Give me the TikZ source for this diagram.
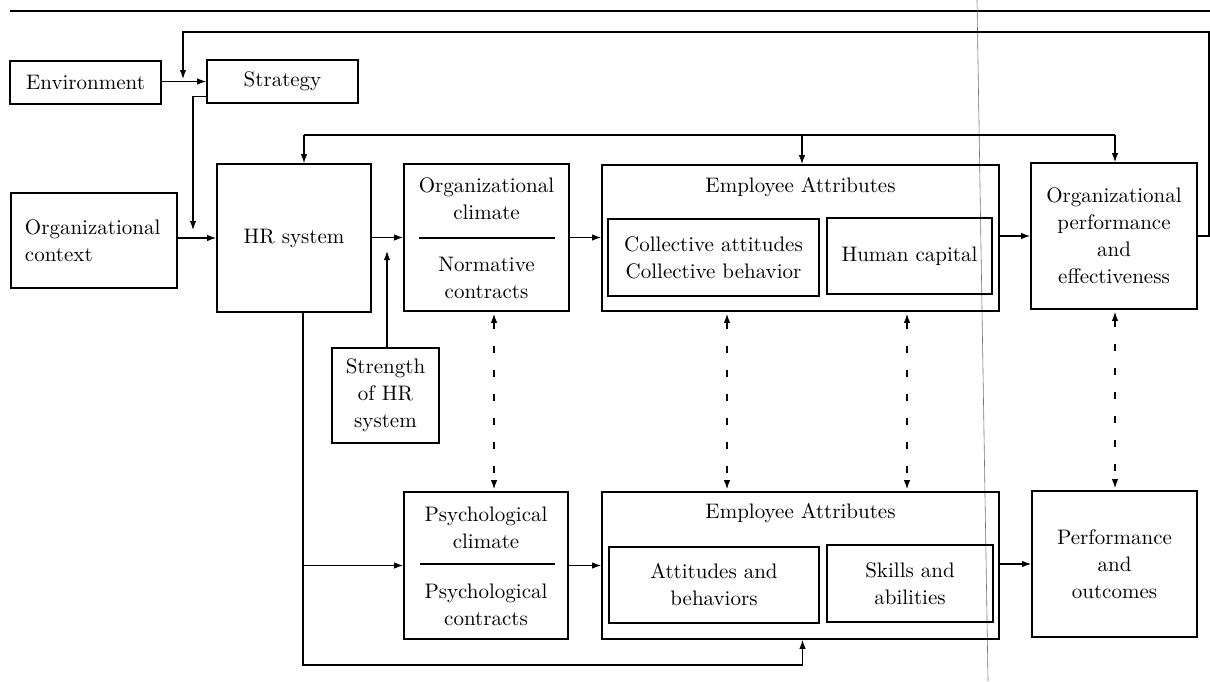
\documentclass[tikz,border=0pt]{standalone}
\usepackage{tikz}
\usetikzlibrary{arrows.meta}

\begin{document}
\begin{tikzpicture}[x=0.5pt,y=-0.5pt,line width=0.6pt,
    >={Latex[length=4.5pt,width=3.2pt]},
    font=\fontsize{10.5}{13.5}\selectfont]
    \tikzstyle{box}=[draw,line width=0.8pt,inner sep=0pt,align=center]
    \tikzstyle{part box}=[box,line width=0.7pt]
    \tikzstyle{annot}=[inner sep=0pt,align=center]
    \tikzstyle{link}=[->]
    \tikzstyle{dash link}=[<->,dash pattern=on 3.5pt off 8.5pt,shorten <=1pt,shorten >=1pt]

    \useasboundingbox (0,0) rectangle (1210,681);

    % Marks of the scanned page
    \draw[line width=0.9pt] (10,11) -- (1210,11);
    \draw[black!55,line width=0.3pt] (977,0) -- (988,681);

    % Draw the input boxes
    \node[box,minimum width=75.5pt,minimum height=21.5pt] (env) at (85.5,82.5) {Environment};
    \node[box,minimum width=75.5pt,minimum height=21.5pt] (strat) at (282.5,81.5) {Strategy};
    \node[box,align=left,text width=69pt,inner xsep=7pt,minimum height=47.5pt] (ctx) at (94,240.5)
        {Organizational\\context};
    \node[box,minimum width=77pt,minimum height=74pt] (hr) at (294,238) {HR system};
    \node[box,minimum width=53.5pt,minimum height=47.5pt] (str) at (385.5,395.5) {Strength\\of HR\\system};

    % Draw the organizational level boxes
    \node[box,minimum width=82.5pt,minimum height=73.5pt] (clim) at (486.5,237.5) {};
    \node[annot] (clim-a) at (486.5,199) {Organizational\\climate};
    \node[annot] (clim-b) at (486.5,278) {Normative\\contracts};
    \draw (419,238) -- (555,238);
    \node[box,minimum width=198.5pt,minimum height=73pt] (eaT) at (800.5,238) {};
    \node[annot] (eaT-t) at (800.5,187) {Employee Attributes};
    \node[part box,minimum width=105.5pt,minimum height=38.5pt] (coll) at (713.5,257.5)
        {Collective attitudes\\Collective behavior};
    \node[part box,minimum width=82.5pt,minimum height=38pt] (hcap) at (909.5,256) {Human capital};
    \node[box,minimum width=83pt,minimum height=73pt] (perfO) at (1114,236)
        {Organizational\\performance\\and\\effectiveness};

    % Draw the individual level boxes
    \node[box,minimum width=82pt,minimum height=73.5pt] (psych) at (486,565.5) {};
    \node[annot] (psych-a) at (486,528) {Psychological\\climate};
    \node[annot] (psych-b) at (486,605) {Psychological\\contracts};
    \draw (420,564) -- (555,564);
    \node[box,minimum width=198.5pt,minimum height=73.5pt] (eaB) at (800.5,565.5) {};
    \node[annot] (eaB-t) at (800.5,513) {Employee Attributes};
    \node[part box,minimum width=105pt,minimum height=38pt] (att) at (714,585) {Attitudes and\\behaviors};
    \node[part box,minimum width=83pt,minimum height=38.5pt] (skill) at (910,583.5) {Skills and\\abilities};
    \node[box,minimum width=82.5pt,minimum height=73pt] (perfI) at (1114.5,564) {Performance\\and\\outcomes};

    % Connect the input boxes
    \coordinate (env-strat) at (183,79);
    \coordinate (ctx-hr) at (193,230);
    \coordinate (hr-clim) at (387,251);
    \draw[link] (env.east |- strat.west) -- (strat.west);
    \draw[link] (perfO.east) -| (1209,32) -| (env-strat);
    \draw[link] ([yshift=3.5pt]strat.south west) -| (ctx-hr);
    \draw[link] (ctx.east |- hr.west) -- (hr.west);
    \draw (304,135) -- (1115,135);
    \foreach \dest / \x in {hr/304, eaT/802, perfO/1115}
        \draw[link] (\x,135) -- (\x,0 |- \dest.north);
    \draw[link] (str.north -| hr-clim) -- (hr-clim);

    % Connect the organizational level
    \draw[link] (hr.east |- clim.west) -- (clim.west);
    \draw[link] (clim.east) -- (eaT.west |- clim.east);
    \draw[link] (eaT.east |- perfO.west) -- (perfO.west);

    % Connect the individual level
    \draw[link] ([xshift=4.5pt]hr.south) |- ([xshift=1pt]eaB.south |- 0,665) -- ([xshift=1pt]eaB.south);
    \draw[link] ([xshift=4.5pt]hr.south |- psych.west) -- (psych.west);
    \draw[link] (psych.east) -- (eaB.west |- psych.east);
    \draw[link] (eaB.east |- perfI.west) -- (perfI.west);

    % Link both levels
    \foreach \x / \up / \down in {494/clim/psych, 727/eaT/eaB, 907/eaT/eaB, 1115/perfO/perfI}
        \draw[dash link] (\x,0 |- \up.south) -- (\x,0 |- \down.north);
\end{tikzpicture}
\end{document}
